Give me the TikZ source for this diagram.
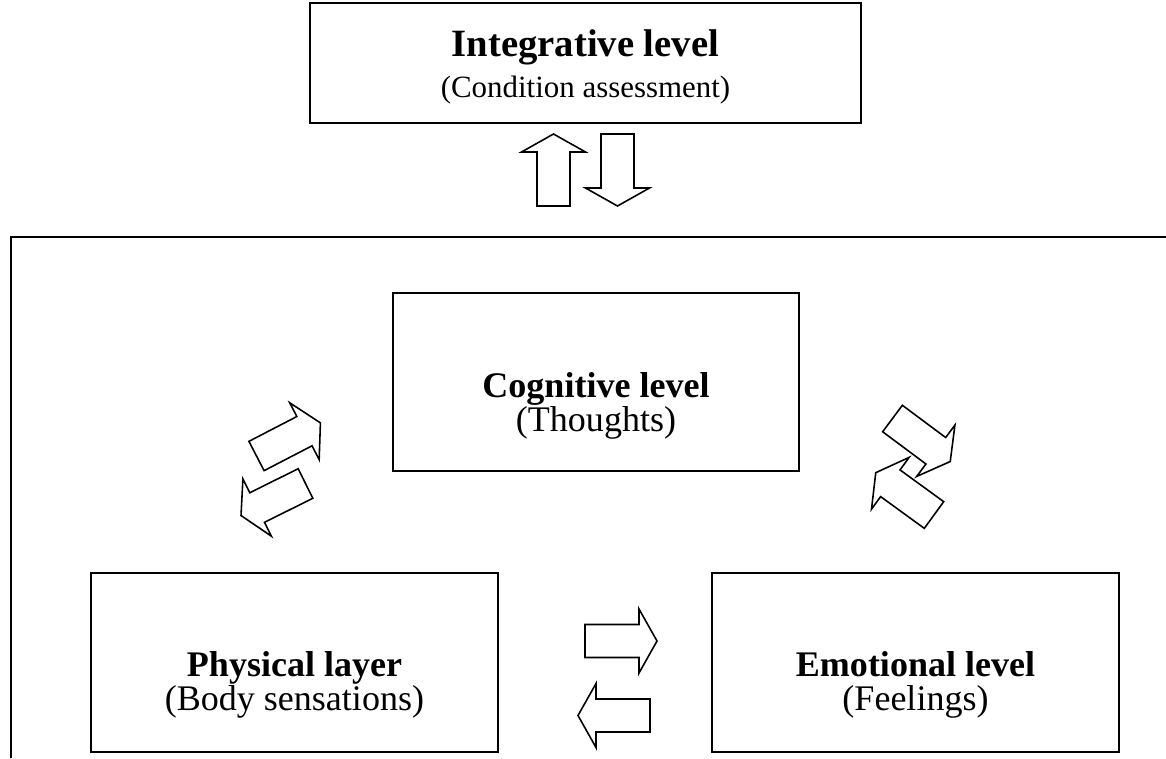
\documentclass[tikz,border=0pt]{standalone}
\usepackage{fontspec}
\setmainfont{Liberation Serif}
\usepackage{tikz}

\begin{document}
\begin{tikzpicture}[x=0.02cm,y=0.02cm,
    levelbox/.style={rectangle, draw, line width=1.1pt, inner sep=0pt},
    leveltext/.style={align=center, font={\fontsize{20.5}{19}\selectfont}},
    blockarrow/.pic={
        \draw[line width=0.9pt, line join=miter]
            (0,-16.5) -- (54,-16.5) -- (54,-32) -- (72,0) -- (54,32)
            -- (54,16.5) -- (0,16.5) -- cycle;
    }]
    \useasboundingbox (0,0) rectangle (1166,-758);

    % outer frame (runs off the page)
    \coordinate (frameBL) at (11,-758);
    \coordinate (frameTL) at (11,-237);
    \coordinate (frameTR) at (1166,-237);
    \draw[line width=1.1pt] (frameBL) -- (frameTL) -- (frameTR);

    \node[levelbox, minimum width=11.02cm, minimum height=2.4cm] (integ) at (585.5,-63) {};
    \node[align=center] (integtxt) at (585.5,-67)
        {{\fontsize{22}{26}\selectfont\bfseries Integrative level}\\[5pt]
         {\fontsize{17.6}{20}\selectfont (Condition assessment)}};

    \node[levelbox, minimum width=8.12cm, minimum height=3.56cm] (cog) at (596,-382) {};
    \node[leveltext] (cogtxt) at (596,-406) {\textbf{Cognitive level}\\(Thoughts)};

    \node[levelbox, minimum width=8.14cm, minimum height=3.58cm] (phys) at (294.5,-662.5) {};
    \node[leveltext] (phystxt) at (294.5,-685) {\textbf{Physical layer}\\(Body sensations)};

    \node[levelbox, minimum width=8.14cm, minimum height=3.58cm] (emo) at (915.5,-662.5) {};
    \node[leveltext] (emotxt) at (915.5,-685) {\textbf{Emotional level}\\(Feelings)};

    % block arrows
    \pic[rotate=90]    at (553.5,-206) {blockarrow};
    \pic[rotate=-90]   at (617.5,-134) {blockarrow};
    \pic[rotate=27.4]  at (256.5,-456) {blockarrow};
    \pic[rotate=206.4] at (305.5,-483.5) {blockarrow};
    \pic[rotate=-36.7] at (892.5,-418.5) {blockarrow};
    \pic[rotate=144]   at (934,-515) {blockarrow};
    \pic               at (585,-641) {blockarrow};
    \pic[rotate=180]   at (650,-715.5) {blockarrow};
\end{tikzpicture}
\end{document}
